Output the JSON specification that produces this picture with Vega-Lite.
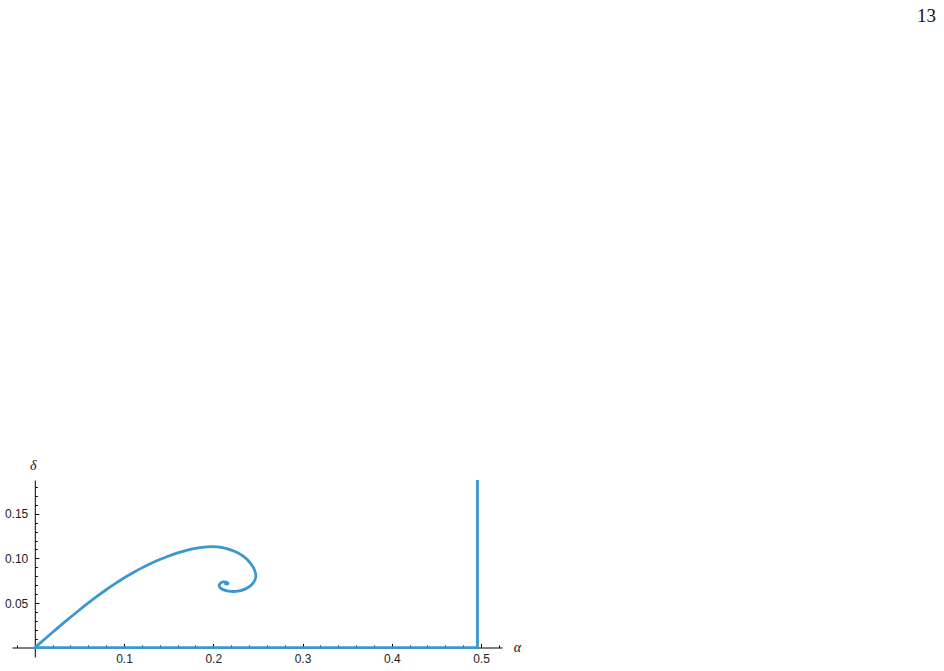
{
  "$schema": "https://vega.github.io/schema/vega-lite/v6.json",
  "width": 490,
  "height": 177,
  "autosize": {"type": "none"},
  "padding": {"left": 12, "top": 480, "right": 442, "bottom": 14},
  "background": "white",
  "title": {
    "text": "13",
    "anchor": "end",
    "frame": "group",
    "orient": "top",
    "font": "Liberation Serif",
    "fontSize": 19,
    "fontWeight": "normal",
    "color": "#111",
    "baseline": "alphabetic",
    "offset": 0,
    "dx": 434,
    "dy": -417
  },
  "config": {
    "view": {"stroke": null},
    "axis": {
      "grid": false,
      "domainColor": "#000",
      "domainWidth": 1,
      "tickColor": "#000",
      "tickWidth": 1,
      "labelFont": "Liberation Sans",
      "labelFontSize": 12,
      "labelColor": "#222",
      "titleFont": "Liberation Serif",
      "titleFontStyle": "italic",
      "titleFontWeight": "normal",
      "titleFontSize": 14,
      "titleColor": "#111"
    }
  },
  "datasets": {
    "curve": [
      {"i": 0, "alpha": 0.0, "delta": 0.0},
      {"i": 1, "alpha": 0.01, "delta": 0.0087},
      {"i": 2, "alpha": 0.02, "delta": 0.0173},
      {"i": 3, "alpha": 0.03, "delta": 0.0258},
      {"i": 4, "alpha": 0.04, "delta": 0.0341},
      {"i": 5, "alpha": 0.05, "delta": 0.0422},
      {"i": 6, "alpha": 0.06, "delta": 0.0501},
      {"i": 7, "alpha": 0.07, "delta": 0.0577},
      {"i": 8, "alpha": 0.08, "delta": 0.0649},
      {"i": 9, "alpha": 0.09, "delta": 0.0717},
      {"i": 10, "alpha": 0.10, "delta": 0.0781},
      {"i": 11, "alpha": 0.11, "delta": 0.0840},
      {"i": 12, "alpha": 0.12, "delta": 0.0894},
      {"i": 13, "alpha": 0.13, "delta": 0.0943},
      {"i": 14, "alpha": 0.14, "delta": 0.0987},
      {"i": 15, "alpha": 0.15, "delta": 0.1027},
      {"i": 16, "alpha": 0.16, "delta": 0.1062},
      {"i": 17, "alpha": 0.17, "delta": 0.1091},
      {"i": 18, "alpha": 0.18, "delta": 0.1113},
      {"i": 19, "alpha": 0.19, "delta": 0.1127},
      {"i": 20, "alpha": 0.197, "delta": 0.1131},
      {"i": 21, "alpha": 0.205, "delta": 0.1128},
      {"i": 22, "alpha": 0.215, "delta": 0.1110},
      {"i": 23, "alpha": 0.225, "delta": 0.1074},
      {"i": 24, "alpha": 0.2335, "delta": 0.1025},
      {"i": 25, "alpha": 0.2400, "delta": 0.0966},
      {"i": 26, "alpha": 0.2447, "delta": 0.0902},
      {"i": 27, "alpha": 0.2472, "delta": 0.0842},
      {"i": 28, "alpha": 0.2476, "delta": 0.0790},
      {"i": 29, "alpha": 0.2456, "delta": 0.0738},
      {"i": 30, "alpha": 0.2416, "delta": 0.0692},
      {"i": 31, "alpha": 0.2356, "delta": 0.0656},
      {"i": 32, "alpha": 0.2280, "delta": 0.0634},
      {"i": 33, "alpha": 0.2200, "delta": 0.0630},
      {"i": 34, "alpha": 0.2135, "delta": 0.0642},
      {"i": 35, "alpha": 0.2085, "delta": 0.0665},
      {"i": 36, "alpha": 0.2065, "delta": 0.0695},
      {"i": 37, "alpha": 0.2080, "delta": 0.0722},
      {"i": 38, "alpha": 0.2115, "delta": 0.0736},
      {"i": 39, "alpha": 0.2150, "delta": 0.0732},
      {"i": 40, "alpha": 0.2165, "delta": 0.0720},
      {"i": 41, "alpha": 0.2150, "delta": 0.0711},
      {"i": 42, "alpha": 0.2138, "delta": 0.0714}
    ],
    "lines": [
      {"x0": 0.0, "x1": 0.496, "y0": 0.0, "y1": 0.0},
      {"x0": 0.496, "x1": 0.496, "y0": 0.0, "y1": 0.1878}
    ]
  },
  "layer": [
    {
      "data": {"name": "lines"},
      "mark": {"type": "rule", "color": "#3a97d0", "strokeWidth": 2.8, "strokeCap": "butt"},
      "encoding": {
        "x": {
          "field": "x0", "type": "quantitative",
          "scale": {"domain": [-0.0255, 0.5235], "nice": false, "zero": false},
          "axis": {
            "orient": "bottom", "offset": -9.5, "title": "α",
            "values": [0.1, 0.2, 0.3, 0.4, 0.5], "format": ".1f",
            "tickSize": -4, "labelPadding": 10,
            "titleX": 505, "titleY": 0, "titleAlign": "center", "titleBaseline": "middle", "titleAngle": 0
          }
        },
        "x2": {"field": "x1"},
        "y": {
          "field": "y0", "type": "quantitative",
          "scale": {"domain": [-0.0104, 0.1878], "nice": false, "zero": false},
          "axis": {
            "orient": "left", "offset": -22.8, "title": "δ",
            "values": [0.05, 0.10, 0.15], "format": ".2f",
            "tickSize": -4, "labelPadding": 11,
            "titleX": -2, "titleY": -15, "titleAlign": "center", "titleBaseline": "middle", "titleAngle": 0
          }
        },
        "y2": {"field": "y1"}
      }
    },
    {
      "data": {"name": "curve"},
      "mark": {"type": "line", "color": "#3a97d0", "strokeWidth": 2.8, "interpolate": "catmull-rom", "strokeCap": "round", "strokeJoin": "round"},
      "encoding": {
        "x": {
          "field": "alpha", "type": "quantitative",
          "axis": {
            "orient": "bottom", "offset": -9.5, "title": null, "labels": false, "domain": false,
            "values": [-0.02, 0.02, 0.04, 0.06, 0.08, 0.12, 0.14, 0.16, 0.18, 0.22, 0.24, 0.26, 0.28, 0.32, 0.34, 0.36, 0.38, 0.42, 0.44, 0.46, 0.48, 0.52],
            "tickSize": -2.5
          }
        },
        "y": {
          "field": "delta", "type": "quantitative",
          "axis": {
            "orient": "left", "offset": -22.8, "title": null, "labels": false, "domain": false,
            "values": [0.01, 0.02, 0.03, 0.04, 0.06, 0.07, 0.08, 0.09, 0.11, 0.12, 0.13, 0.14, 0.16, 0.17, 0.18],
            "tickSize": -2.5
          }
        },
        "order": {"field": "i", "type": "quantitative"}
      }
    }
  ],
  "resolve": {"axis": {"x": "independent", "y": "independent"}}
}
